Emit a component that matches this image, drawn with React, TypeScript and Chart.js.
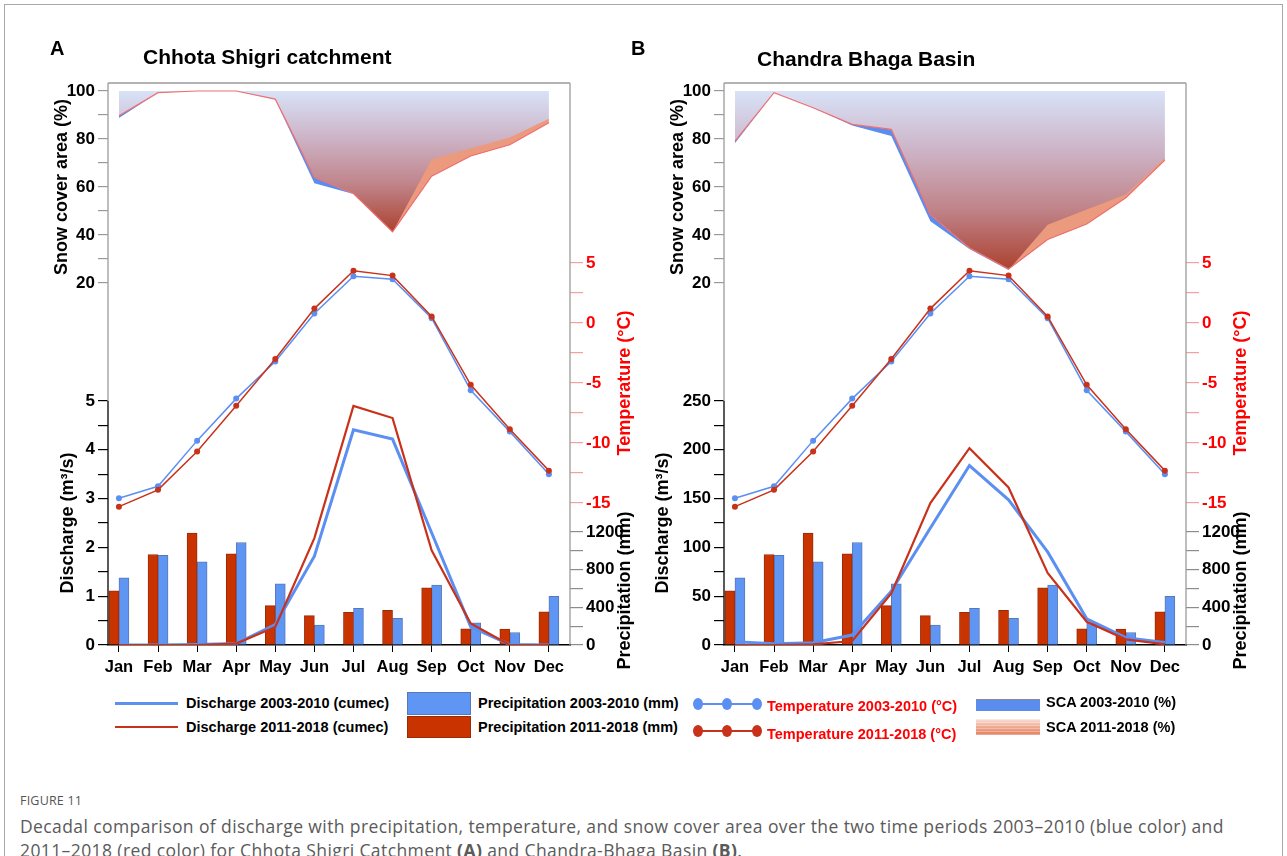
import React, { useEffect, useRef } from "react";
import { Chart, registerables } from "chart.js";

Chart.register(...registerables);

const FONT = '"Liberation Sans", Arial, Helvetica, sans-serif';
Chart.defaults.font.family = FONT;

// ---------- data ----------
const MONTHS = ["Jan", "Feb", "Mar", "Apr", "May", "Jun", "Jul", "Aug", "Sep", "Oct", "Nov", "Dec"];

// Snow cover area (%)
const SCA_A_2003_2010 = [88.7, 99.3, 100, 100, 96.5, 61.6, 57.1, 41.2, 71.5, 76.0, 80.6, 88.4];
const SCA_A_2011_2018 = [89.7, 99.3, 100, 100, 96.6, 64.0, 57.3, 41.3, 64.5, 72.9, 77.6, 86.8];
const SCA_B_2003_2010 = [78.2, 99.3, 93.0, 85.6, 81.2, 45.7, 34.2, 25.4, 44.3, 50.6, 56.9, 72.2];
const SCA_B_2011_2018 = [79.1, 99.3, 93.0, 86.1, 84.0, 48.5, 34.6, 25.8, 38.1, 44.6, 55.5, 71.2];

// Temperature (°C)
const TEMP_2003_2010 = [-14.6, -13.6, -9.8, -6.3, -3.2, 0.8, 3.9, 3.65, 0.4, -5.6, -9.05, -12.6];
const TEMP_2011_2018 = [-15.3, -13.9, -10.7, -6.9, -3.0, 1.2, 4.35, 3.95, 0.55, -5.15, -8.85, -12.3];

// Precipitation (mm)
const PRECIP_2003_2010 = [712, 951, 884, 1088, 649, 211, 389, 284, 635, 235, 133, 516];
const PRECIP_2011_2018 = [575, 961, 1189, 968, 418, 312, 347, 368, 607, 172, 168, 351];

// Discharge (m3/s)
const DISCHARGE_A_2003_2010 = [0, 0, 0.01, 0.03, 0.42, 1.82, 4.41, 4.22, 2.3, 0.37, 0.01, 0];
const DISCHARGE_A_2011_2018 = [0, 0, 0, 0.03, 0.37, 2.19, 4.9, 4.65, 1.94, 0.44, 0, 0];
const DISCHARGE_B_2003_2010 = [3.4, 1.4, 2.4, 10.2, 55.2, 119.9, 183.9, 148.8, 95.4, 26.9, 7.5, 2.7];
const DISCHARGE_B_2011_2018 = [0, 0, 0.7, 4.1, 52.8, 145.4, 201.6, 161.4, 73.9, 23.8, 5.8, 0.7];

// Tick values
const SCA_TICKS = [20, 30, 40, 50, 60, 70, 80, 90, 100];
const TEMP_TICKS = [-15, -12.5, -10, -7.5, -5, -2.5, 0, 2.5, 5];
const PRECIP_TICKS = [0, 200, 400, 600, 800, 1000, 1200];
const DISCHARGE_A_TICKS = [0, 0.5, 1, 1.5, 2, 2.5, 3, 3.5, 4, 4.5, 5];
const DISCHARGE_B_TICKS = [0, 25, 50, 75, 100, 125, 150, 175, 200, 225, 250];

// Axis ranges (the stacked sub-plots share one plot frame)
const X_RANGE = [-0.28, 11.54];
const SCA_RANGE = [-130.83, 103.33];
const TEMP_RANGE = [-26.83, 20];
const PRECIP_RANGE = [0, 5968];
const DISCHARGE_A_RANGE = [0, 11.516];
const DISCHARGE_B_RANGE = [0, 575.8];

// ---------- styles ----------
const BLUE = "#5b8ff2";
const RED = "#c8321a";
const BAR_BLUE = "#6096f3";
const BAR_RED = "#c93300";
const SCA_BLUE = "#5b8def";
const SCA_SALMON = "#eb9a7e";
const TEMP_RED = "#ff0000";

type PanelSpec = {
  left: number;
  sca0310: number[];
  sca1118: number[];
  q0310: number[];
  q1118: number[];
  qTicks: number[];
  qStep: number;
  qRange: number[];
  qTitleOffset: number;
};

const PANELS: PanelSpec[] = [
  {
    left: 0,
    sca0310: SCA_A_2003_2010,
    sca1118: SCA_A_2011_2018,
    q0310: DISCHARGE_A_2003_2010,
    q1118: DISCHARGE_A_2011_2018,
    qTicks: DISCHARGE_A_TICKS,
    qStep: 1,
    qRange: DISCHARGE_A_RANGE,
    qTitleOffset: 40,
  },
  {
    left: 616,
    sca0310: SCA_B_2003_2010,
    sca1118: SCA_B_2011_2018,
    q0310: DISCHARGE_B_2003_2010,
    q1118: DISCHARGE_B_2011_2018,
    qTicks: DISCHARGE_B_TICKS,
    qStep: 50,
    qRange: DISCHARGE_B_RANGE,
    qTitleOffset: 61,
  },
];

const isStep = (v: number, step: number) => Math.abs(v / step - Math.round(v / step)) < 1e-6;

function yAxis(
  ticks: number[],
  step: number,
  range: number[],
  position: "left" | "right",
  weight: number,
  width: number,
  tickColor: string,
  labelColor: string,
  tickLength: number
): any {
  return {
    type: "linear",
    position,
    weight,
    min: range[0],
    max: range[1],
    afterBuildTicks: (s: any) => {
      s.ticks = ticks.map((v) => ({ value: v }));
    },
    afterFit: (s: any) => {
      s.width = width;
      // axes that share a side overlap: do not clip their labels to their own box
      s._computeLabelArea = () => undefined;
    },
    border: { display: false },
    grid: {
      drawOnChartArea: false,
      drawTicks: true,
      tickLength,
      tickColor,
      color: tickColor,
      lineWidth: 1.2,
    },
    ticks: {
      autoSkip: false,
      padding: 3,
      color: labelColor,
      font: { size: 17, weight: "bold" },
      callback: (v: number) => (isStep(v, step) ? String(v) : ""),
    },
  };
}

function buildChart(canvas: HTMLCanvasElement, p: PanelSpec) {
  const xy = (arr: number[]) => arr.map((y, x) => ({ x, y }));
  const minSca = Math.min(...p.sca1118);

  const framePlugin = {
    id: "frameAndTitles",
    afterDraw(chart: any) {
      const { ctx, chartArea, scales } = chart;
      const { left, right, top, bottom } = chartArea;
      const qTop = scales.yQ.getPixelForValue(p.qTicks[p.qTicks.length - 1]);
      ctx.save();
      ctx.lineWidth = 1.3;
      ctx.strokeStyle = "#9c9c9c";
      ctx.beginPath();
      ctx.moveTo(left, top);
      ctx.lineTo(right, top);
      ctx.moveTo(right, top);
      ctx.lineTo(right, bottom);
      ctx.moveTo(left, top);
      ctx.lineTo(left, qTop);
      ctx.stroke();
      ctx.strokeStyle = "#000";
      ctx.beginPath();
      ctx.moveTo(left, qTop);
      ctx.lineTo(left, bottom);
      ctx.stroke();

      const title = (text: string, x: number, y: number, color: string) => {
        ctx.save();
        ctx.translate(x, y);
        ctx.rotate(-Math.PI / 2);
        ctx.font = `bold 18px ${FONT}`;
        ctx.fillStyle = color;
        ctx.textAlign = "center";
        ctx.textBaseline = "middle";
        ctx.fillText(text, 0, 0);
        ctx.restore();
      };
      const s = scales.ySCA;
      title(
        "Snow cover area (%)",
        left - 46,
        (s.getPixelForValue(SCA_TICKS[0]) + s.getPixelForValue(SCA_TICKS[SCA_TICKS.length - 1])) / 2,
        "#000"
      );
      const q = scales.yQ;
      title(
        "Discharge (m³/s)",
        left - p.qTitleOffset,
        (q.getPixelForValue(p.qTicks[0]) + q.getPixelForValue(p.qTicks[p.qTicks.length - 1])) / 2,
        "#000"
      );
      const t = scales.yT;
      title(
        "Temperature (°C)",
        right + 55,
        (t.getPixelForValue(TEMP_TICKS[0]) + t.getPixelForValue(TEMP_TICKS[TEMP_TICKS.length - 1])) / 2,
        TEMP_RED
      );
      const pr = scales.yP;
      title(
        "Precipitation (mm)",
        right + 55,
        (pr.getPixelForValue(PRECIP_TICKS[0]) + pr.getPixelForValue(PRECIP_TICKS[PRECIP_TICKS.length - 1])) / 2 + 2,
        "#000"
      );
      ctx.restore();
    },
  };

  return new Chart(canvas, {
    type: "line",
    data: {
      datasets: [
        {
          label: "SCA 2011-2018 (%)",
          data: xy(p.sca1118),
          yAxisID: "ySCA",
          borderColor: "#f07070",
          borderWidth: 1.2,
          pointRadius: 0,
          fill: { value: 100 },
          backgroundColor: (c: any) => {
            const chart = c.chart;
            const sc = chart.scales && chart.scales.ySCA;
            if (!chart.chartArea || !sc) return "rgba(0,0,0,0)";
            const y0 = sc.getPixelForValue(100);
            const y1 = sc.getPixelForValue(minSca);
            const g = chart.ctx.createLinearGradient(0, y0, 0, y1);
            g.addColorStop(0, "#d8e2f8");
            g.addColorStop(0.33, "#cdb4c7");
            g.addColorStop(0.66, "#c0848a");
            g.addColorStop(1, "#ac4230");
            return g;
          },
          order: 10,
        } as any,
        {
          label: "SCA 2003-2010 (%)",
          data: xy(p.sca0310),
          yAxisID: "ySCA",
          borderWidth: 0,
          borderColor: SCA_BLUE,
          pointRadius: 0,
          fill: { target: 0, above: SCA_SALMON, below: SCA_BLUE },
          order: 9,
        } as any,
        {
          type: "bar",
          label: "Precipitation 2011-2018 (mm)",
          data: xy(PRECIP_2011_2018),
          yAxisID: "yP",
          backgroundColor: BAR_RED,
          borderColor: "#9a2a08",
          borderWidth: 1,
          barThickness: 10,
          order: 8,
        } as any,
        {
          type: "bar",
          label: "Precipitation 2003-2010 (mm)",
          data: xy(PRECIP_2003_2010),
          yAxisID: "yP",
          backgroundColor: BAR_BLUE,
          borderColor: "#5a78b8",
          borderWidth: 1,
          barThickness: 10,
          order: 8,
        } as any,
        {
          label: "Discharge 2003-2010 (cumec)",
          data: xy(p.q0310),
          yAxisID: "yQ",
          borderColor: BLUE,
          borderWidth: 3,
          pointRadius: 0,
          fill: false,
          order: 4,
        },
        {
          label: "Discharge 2011-2018 (cumec)",
          data: xy(p.q1118),
          yAxisID: "yQ",
          borderColor: RED,
          borderWidth: 2.2,
          pointRadius: 0,
          fill: false,
          order: 3,
        },
        {
          label: "Temperature 2003-2010 (°C)",
          data: xy(TEMP_2003_2010),
          yAxisID: "yT",
          borderColor: BLUE,
          borderWidth: 1.5,
          pointRadius: 3,
          pointBackgroundColor: BLUE,
          pointBorderWidth: 0,
          fill: false,
          order: 2,
        },
        {
          label: "Temperature 2011-2018 (°C)",
          data: xy(TEMP_2011_2018),
          yAxisID: "yT",
          borderColor: RED,
          borderWidth: 1.5,
          pointRadius: 3,
          pointBackgroundColor: RED,
          pointBorderWidth: 0,
          fill: false,
          order: 1,
        },
      ],
    },
    options: {
      responsive: false,
      animation: false,
      devicePixelRatio: 1,
      events: [],
      layout: { padding: { top: 83, left: 0, right: 0, bottom: 0 } },
      plugins: {
        legend: { display: false },
        tooltip: { enabled: false },
        filler: { drawTime: "beforeDatasetsDraw" },
      } as any,
      scales: {
        x: {
          type: "linear",
          position: "bottom",
          offset: false,
          min: X_RANGE[0],
          max: X_RANGE[1],
          afterBuildTicks: (s: any) => {
            s.ticks = MONTHS.map((_, i) => ({ value: i }));
          },
          afterFit: (s: any) => {
            s.height = 45;
          },
          border: { display: true, color: "#000", width: 1.5 },
          grid: { offset: false, drawOnChartArea: false, drawTicks: true, tickLength: 7, tickColor: "#000", color: "#000" },
          ticks: {
            autoSkip: false,
            maxRotation: 0,
            padding: 6,
            color: "#000",
            font: { size: 16.5, weight: "bold" },
            callback: (v: number) => MONTHS[Math.round(v)] ?? "",
          },
        } as any,
        ySCA: yAxis(SCA_TICKS, 20, SCA_RANGE, "left", 1, 108, "#9c9c9c", "#000", 10),
        yQ: yAxis(p.qTicks, p.qStep, p.qRange, "left", 0, 0, "#000", "#000", 10),
        yT: yAxis(TEMP_TICKS, 5, TEMP_RANGE, "right", 1, 70, "#f4a0a0", TEMP_RED, 13),
        yP: yAxis(PRECIP_TICKS, 400, PRECIP_RANGE, "right", 0, 0, "#8c8c8c", "#000", 13),
      },
    },
    plugins: [framePlugin],
  });
}

function Panel({ spec }: { spec: PanelSpec }) {
  const ref = useRef<HTMLCanvasElement>(null);
  useEffect(() => {
    if (!ref.current) return;
    const chart = buildChart(ref.current, spec);
    return () => chart.destroy();
  }, [spec]);
  return (
    <canvas
      ref={ref}
      width={640}
      height={690}
      style={{ position: "absolute", left: spec.left, top: 0, width: 640, height: 690 }}
    />
  );
}

const textStyle = (left: number, cy: number, color = "#000", size = 14.5): React.CSSProperties => ({
  position: "absolute",
  left,
  top: cy - 10,
  height: 20,
  lineHeight: "20px",
  fontFamily: FONT,
  fontWeight: "bold",
  fontSize: size,
  color,
  whiteSpace: "nowrap",
});

function Dots({ left, cy, color }: { left: number; cy: number; color: string }) {
  return (
    <div style={{ position: "absolute", left: left - 5, top: cy - 6, width: 70, height: 12 }}>
      <div style={{ position: "absolute", left: 5, top: 5, width: 59, height: 2, background: color }} />
      {[0, 29, 59].map((dx) => (
        <div
          key={dx}
          style={{
            position: "absolute",
            left: dx,
            top: 0,
            width: 10,
            height: 12,
            borderRadius: "50%",
            background: color,
          }}
        />
      ))}
    </div>
  );
}

export default function App() {
  return (
    <div style={{ position: "absolute", left: 0, top: 0, width: 1287, height: 856, background: "#fff", overflow: "hidden" }}>
      <div
        style={{
          position: "absolute",
          left: 4,
          top: 4,
          width: 1277,
          height: 900,
          border: "1px solid #a8a8a8",
        }}
      />
      {PANELS.map((p, i) => (
        <Panel key={i} spec={p} />
      ))}

      {/* panel labels and titles */}
      <div style={{ ...textStyle(50, 48, "#000", 20) }}>A</div>
      <div style={{ ...textStyle(143, 57, "#000", 21) }}>Chhota Shigri catchment</div>
      <div style={{ ...textStyle(631, 48, "#000", 20) }}>B</div>
      <div style={{ ...textStyle(757, 59, "#000", 21) }}>Chandra Bhaga Basin</div>

      {/* legend */}
      <div style={{ position: "absolute", left: 115, top: 702, width: 63, height: 3, background: BLUE }} />
      <div style={{ position: "absolute", left: 115, top: 726, width: 63, height: 2, background: RED }} />
      <div style={textStyle(186, 703)}>Discharge 2003-2010 (cumec)</div>
      <div style={textStyle(186, 727)}>Discharge 2011-2018 (cumec)</div>

      <div style={{ position: "absolute", left: 407, top: 692, width: 62, height: 21, background: BAR_BLUE, border: "1px solid #5a78b8" }} />
      <div style={{ position: "absolute", left: 407, top: 716, width: 62, height: 20, background: BAR_RED, border: "1px solid #9a2a08" }} />
      <div style={textStyle(478, 703)}>Precipitation 2003-2010 (mm)</div>
      <div style={textStyle(478, 727)}>Precipitation 2011-2018 (mm)</div>

      <Dots left={698} cy={704} color={BLUE} />
      <Dots left={698} cy={731} color={RED} />
      <div style={textStyle(767, 706, TEMP_RED)}>Temperature 2003-2010 (°C)</div>
      <div style={textStyle(767, 734, TEMP_RED)}>Temperature 2011-2018 (°C)</div>

      <div style={{ position: "absolute", left: 976, top: 699, width: 64, height: 11, background: SCA_BLUE, borderTop: "1px solid #8a8a8a" }} />
      <div
        style={{
          position: "absolute",
          left: 976,
          top: 719,
          width: 64,
          height: 16,
          background: "repeating-linear-gradient(180deg, rgba(255,255,255,0.3) 0px, rgba(255,255,255,0.3) 1px, transparent 1px, transparent 3px), linear-gradient(180deg, #fbe0d8 0%, #f0a890 50%, #e0805f 100%)",
        }}
      />
      <div style={textStyle(1046, 702)}>SCA 2003-2010 (%)</div>
      <div style={textStyle(1046, 727)}>SCA 2011-2018 (%)</div>

      {/* caption */}
      <div
        style={{
          position: "absolute",
          left: 20,
          top: 792,
          fontFamily: '"Open Sans", sans-serif',
          fontSize: 12.5,
          color: "#555",
          letterSpacing: 0.2,
        }}
      >
        FIGURE 11
      </div>
      <div
        style={{
          position: "absolute",
          left: 20,
          top: 814,
          fontFamily: '"Open Sans", sans-serif',
          fontSize: 17.5,
          letterSpacing: 0.4,
          lineHeight: "24px",
          color: "#5a5a5a",
          whiteSpace: "nowrap",
        }}
      >
        Decadal comparison of discharge with precipitation, temperature, and snow cover area over the two time periods 2003–2010 (blue color) and
        <br />
        2011–2018 (red color) for Chhota Shigri Catchment <b>(A)</b> and Chandra-Bhaga Basin <b>(B)</b>.
      </div>
    </div>
  );
}
